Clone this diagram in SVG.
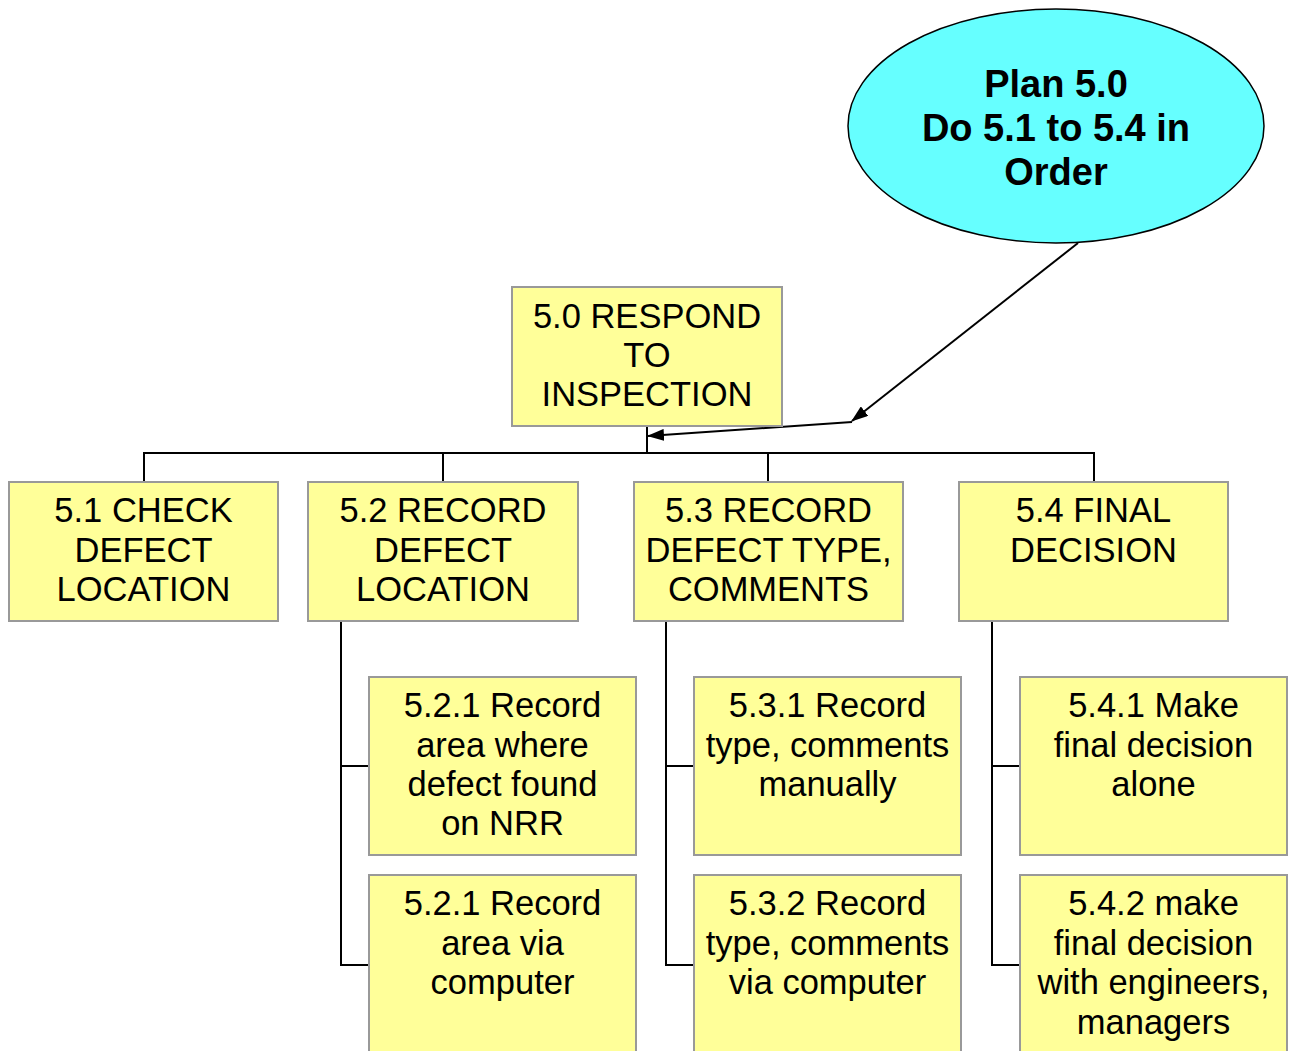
<svg xmlns="http://www.w3.org/2000/svg" width="1293" height="1051" viewBox="0 0 1293 1051">
<defs>
<marker id="ah" markerWidth="17" markerHeight="12" refX="16" refY="6" orient="auto" markerUnits="userSpaceOnUse">
<path d="M0,0 L17,6 L0,12 Z" fill="#000"/>
</marker>
<style>
.box{fill:#FFFF99;stroke:#999;stroke-width:2}
.t{font-family:"Liberation Sans",Arial,sans-serif;font-size:34.5px;fill:#000;text-anchor:middle}
.b{font-family:"Liberation Sans",Arial,sans-serif;font-size:38px;font-weight:bold;fill:#000;text-anchor:middle}
.c{stroke:#000;stroke-width:2;fill:none}
</style>
</defs>
<rect width="1293" height="1051" fill="#fff"/>
<g id="connectors">
<path class="c" d="M647,426 V453 M144,482 V453 H1094 V482 M443,453 V482 M768,453 V482"/>
<path class="c" d="M341,621 V965 H369 M341,766 H369"/>
<path class="c" d="M666,621 V965 H694 M666,766 H694"/>
<path class="c" d="M992,621 V965 H1020 M992,766 H1020"/>
<line class="c" x1="1078" y1="243" x2="852" y2="421" marker-end="url(#ah)" stroke-width="1.5"/>
<line class="c" x1="852" y1="422" x2="648" y2="436" marker-end="url(#ah)" stroke-width="1.5"/>
</g>
<g id="plan">
<ellipse cx="1056" cy="126" rx="208" ry="117" fill="#66FFFF" stroke="#000" stroke-width="1.5"/>
<text class="b" x="1056" y="97">Plan 5.0</text>
<text class="b" x="1056" y="141">Do 5.1 to 5.4 in</text>
<text class="b" x="1056" y="185">Order</text>
</g>
<g id="n50">
<rect class="box" x="512" y="287" width="270" height="139"/>
<text class="t" x="647" y="328">5.0 RESPOND</text>
<text class="t" x="647" y="367">TO</text>
<text class="t" x="647" y="406">INSPECTION</text>
</g>
<g id="n51">
<rect class="box" x="9" y="482" width="269" height="139"/>
<text class="t" x="143.5" y="522">5.1 CHECK</text>
<text class="t" x="143.5" y="562">DEFECT</text>
<text class="t" x="143.5" y="601">LOCATION</text>
</g>
<g id="n52">
<rect class="box" x="308" y="482" width="270" height="139"/>
<text class="t" x="443" y="522">5.2 RECORD</text>
<text class="t" x="443" y="562">DEFECT</text>
<text class="t" x="443" y="601">LOCATION</text>
</g>
<g id="n53">
<rect class="box" x="634" y="482" width="269" height="139"/>
<text class="t" x="768.5" y="522">5.3 RECORD</text>
<text class="t" x="768.5" y="562">DEFECT TYPE,</text>
<text class="t" x="768.5" y="601">COMMENTS</text>
</g>
<g id="n54">
<rect class="box" x="959" y="482" width="269" height="139"/>
<text class="t" x="1093.5" y="522">5.4 FINAL</text>
<text class="t" x="1093.5" y="562">DECISION</text>
</g>
<g id="n521">
<rect class="box" x="369" y="677" width="267" height="178"/>
<text class="t" x="502.5" y="717">5.2.1 Record</text>
<text class="t" x="502.5" y="757">area where</text>
<text class="t" x="502.5" y="796">defect found</text>
<text class="t" x="502.5" y="835">on NRR</text>
</g>
<g id="n522">
<rect class="box" x="369" y="875" width="267" height="190"/>
<text class="t" x="502.5" y="915">5.2.1 Record</text>
<text class="t" x="502.5" y="955">area via</text>
<text class="t" x="502.5" y="994">computer</text>
</g>
<g id="n531">
<rect class="box" x="694" y="677" width="267" height="178"/>
<text class="t" x="827.5" y="717">5.3.1 Record</text>
<text class="t" x="827.5" y="757">type, comments</text>
<text class="t" x="827.5" y="796">manually</text>
</g>
<g id="n532">
<rect class="box" x="694" y="875" width="267" height="190"/>
<text class="t" x="827.5" y="915">5.3.2 Record</text>
<text class="t" x="827.5" y="955">type, comments</text>
<text class="t" x="827.5" y="994">via computer</text>
</g>
<g id="n541">
<rect class="box" x="1020" y="677" width="267" height="178"/>
<text class="t" x="1153.5" y="717">5.4.1 Make</text>
<text class="t" x="1153.5" y="757">final decision</text>
<text class="t" x="1153.5" y="796">alone</text>
</g>
<g id="n542">
<rect class="box" x="1020" y="875" width="267" height="190"/>
<text class="t" x="1153.5" y="915">5.4.2 make</text>
<text class="t" x="1153.5" y="955">final decision</text>
<text class="t" x="1153.5" y="994">with engineers,</text>
<text class="t" x="1153.5" y="1034">managers</text>
</g>
</svg>
